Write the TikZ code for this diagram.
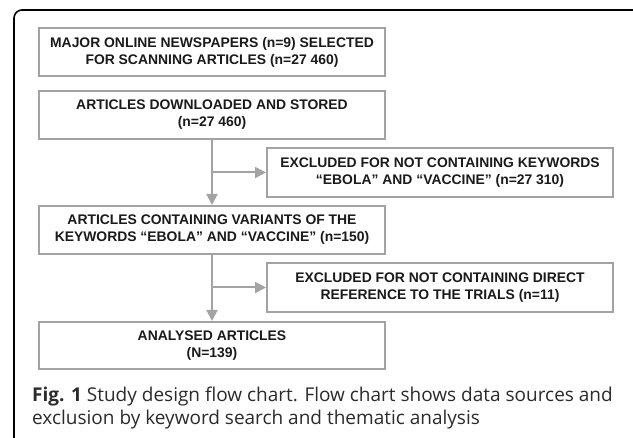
\documentclass[tikz,border=0pt]{standalone}
\usepackage{fontspec}
\setmainfont{Liberation Sans}
\newfontfamily\capfont{Open Sans}
\usetikzlibrary{arrows.meta}
\definecolor{boxgray}{HTML}{A3A3A3}
\definecolor{txt}{HTML}{1A1A1A}
\definecolor{captxt}{HTML}{2B2B2B}
\tikzset{
  flowbox/.style={draw=boxgray, line width=2pt, minimum width=346pt, inner sep=0pt,
    align=center, text=txt, font=\fontsize{13.9}{17}\selectfont\bfseries},
  conn/.style={draw=boxgray, line width=2pt, -{Triangle[length=11pt,width=11pt]}},
  captext/.style={anchor=base west, inner sep=0pt, text=captxt, font=\capfont\fontsize{19}{24}\selectfont},
}
\begin{document}
\begin{tikzpicture}[x=1pt,y=-1pt]
\useasboundingbox (0,0) rectangle (633,438);
\fill[white] (0,0) rectangle (633,438);
% outer frame
\draw[black, line width=1.6pt, rounded corners=8pt] (14,440) -- (14,10) -- (633,10);
% boxes
\node[flowbox, minimum height=48pt] (b1) at (212,52) {MAJOR ONLINE NEWSPAPERS (n=9) SELECTED\\FOR SCANNING ARTICLES (n=27 460)};
\node[flowbox, minimum height=48pt] (b2) at (212,115) {ARTICLES DOWNLOADED AND STORED\\(n=27 460)};
\node[flowbox, minimum height=49pt] (b3) at (440,172.5) {EXCLUDED FOR NOT CONTAINING KEYWORDS\\``EBOLA'' AND ``VACCINE'' (n=27 310)};
\node[flowbox, minimum height=48pt] (b4) at (212,230) {ARTICLES CONTAINING VARIANTS OF THE\\KEYWORDS ``EBOLA'' AND ``VACCINE'' (n=150)};
\node[flowbox, minimum height=49pt] (b5) at (440,287.5) {EXCLUDED FOR NOT CONTAINING DIRECT\\REFERENCE TO THE TRIALS (n=11)};
\node[flowbox, minimum height=47pt] (b6) at (212,345.5) {ANALYSED ARTICLES\\(N=139)};
% connectors
\coordinate (j1) at (b2.south |- b3.west);
\coordinate (j2) at (b4.south |- b5.west);
\draw[conn] (b2.south) -- (b4.north);
\draw[conn] (j1) -- (b3.west);
\draw[conn] (b4.south) -- (b6.north);
\draw[conn] (j2) -- (b5.west);
% caption
\node[captext] (cap1) at (32,401.5) {\textbf{Fig. 1} Study design flow chart. Flow chart shows data sources and};
\node[captext] (cap2) at (32,425) {exclusion by keyword search and thematic analysis};
\end{tikzpicture}
\end{document}
